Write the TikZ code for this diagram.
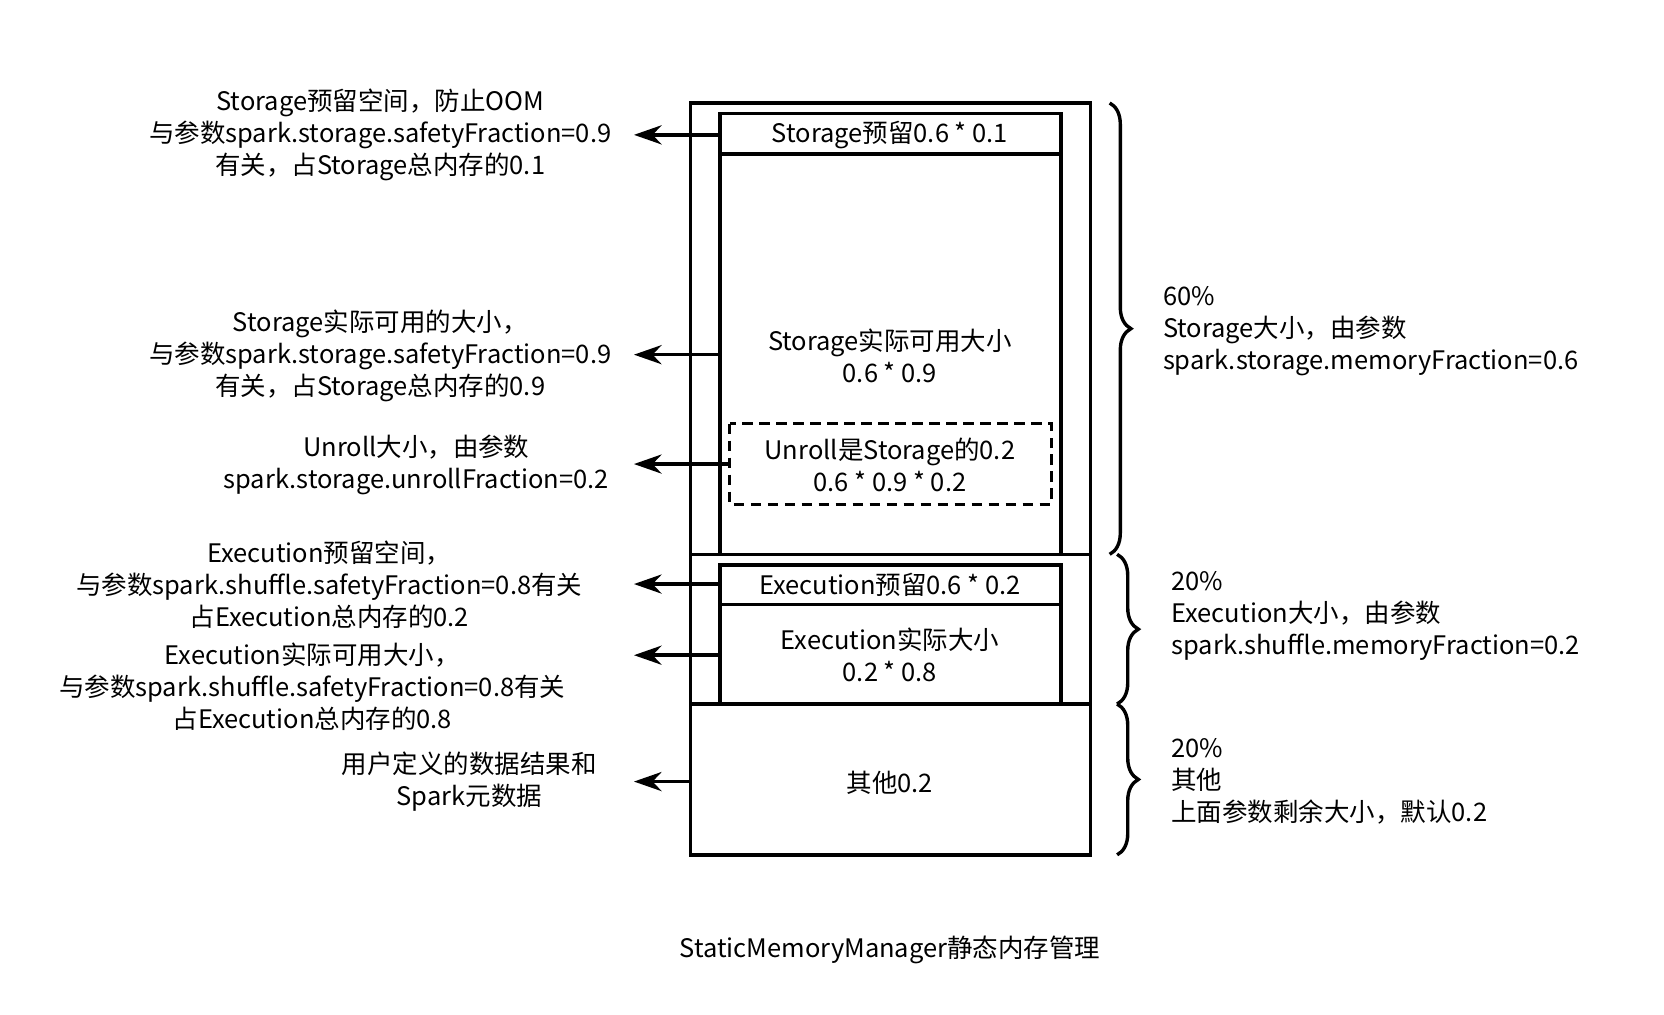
\documentclass[tikz,border=0pt]{standalone}
\usepackage{fontspec}
\setmainfont{Noto Sans CJK SC}
\usetikzlibrary{arrows.meta,decorations.pathreplacing}
\begin{document}
\begin{tikzpicture}[x=1pt,y=-1pt,
  box/.style={draw,line width=3.2pt},
  arr/.style={-{Stealth[length=26pt,width=18pt]},line width=3.2pt},
  br/.style={decorate,decoration={brace,amplitude=20pt},line width=3.2pt},
  txt/.style={font=\fontsize{24}{30}\selectfont,align=center,inner sep=0pt},
  rtxt/.style={font=\fontsize{24}{30}\selectfont,align=left,anchor=west,inner sep=0pt}]
\useasboundingbox (0,0) rectangle (1567,955);
\draw[box] (650,97) rectangle (1027,805);
\draw[box] (678,107) rectangle (999,145);
\draw[box] (678,145) rectangle (999,522);
\draw[box] (650,522) -- (1027,522);
\draw[box] (678,532) rectangle (999,569);
\draw[box] (678,569) rectangle (999,663);
\draw[box] (650,663) -- (1027,663);
\draw[box,dashed,dash pattern=on 10pt off 6pt] (687,399) rectangle (990,475);
\node[txt] (sr) at (838,127) {Storage预留0.6 * 0.1};
\node[txt] (sa) at (838,335) {Storage实际可用大小\\0.6 * 0.9};
\node[txt] (ur) at (838,438) {Unroll是Storage的0.2\\0.6 * 0.9 * 0.2};
\node[txt] (er) at (838,551) {Execution预留0.6 * 0.2};
\node[txt] (ea) at (838,617) {Execution实际大小\\0.2 * 0.8};
\node[txt] (ot) at (838,737) {其他0.2};
\node[txt] (l1) at (358,127) {Storage预留空间，防止OOM\\与参数spark.storage.safetyFraction=0.9\\有关，占Storage总内存的0.1};
\node[txt] (l2) at (358,335) {Storage实际可用的大小，\\与参数spark.storage.safetyFraction=0.9\\有关，占Storage总内存的0.9};
\node[txt] (l3) at (392,438) {Unroll大小，由参数\\spark.storage.unrollFraction=0.2};
\node[txt] (l4) at (310,551) {Execution预留空间，\\与参数spark.shuffle.safetyFraction=0.8有关\\占Execution总内存的0.2};
\node[txt] (l5) at (294,647) {Execution实际可用大小，\\与参数spark.shuffle.safetyFraction=0.8有关\\占Execution总内存的0.8};
\node[txt] (l6) at (442,736) {用户定义的数据结果和\\Spark元数据};
\coordinate (a1s) at (678,127); \coordinate (a1e) at (597,127);
\coordinate (a2s) at (678,334); \coordinate (a2e) at (597,334);
\coordinate (a3s) at (687,437); \coordinate (a3e) at (597,437);
\coordinate (a4s) at (678,550); \coordinate (a4e) at (597,550);
\coordinate (a5s) at (678,617); \coordinate (a5e) at (597,617);
\coordinate (a6s) at (650,736); \coordinate (a6e) at (597,736);
\foreach \i in {1,...,6} {\draw[arr] (a\i s) -- (a\i e);}
\coordinate (b1a) at (1045,97); \coordinate (b1b) at (1045,522);
\coordinate (b2a) at (1052,522); \coordinate (b2b) at (1052,663);
\coordinate (b3a) at (1052,663); \coordinate (b3b) at (1052,805);
\draw[br] (b1a) -- (b1b);
\draw[br] (b2a) -- (b2b);
\draw[br] (b3a) -- (b3b);
\node[rtxt] (r1) at (1095,312) {60\%\\Storage大小，由参数\\spark.storage.memoryFraction=0.6};
\node[rtxt] (r2) at (1103,580) {20\%\\Execution大小，由参数\\spark.shuffle.memoryFraction=0.2};
\node[rtxt] (r3) at (1103,736) {20\%\\其他\\上面参数剩余大小，默认0.2};
\node[font=\fontsize{24}{30}\selectfont,inner sep=0pt] (cap) at (838,895) {StaticMemoryManager静态内存管理};
\end{tikzpicture}
\end{document}
